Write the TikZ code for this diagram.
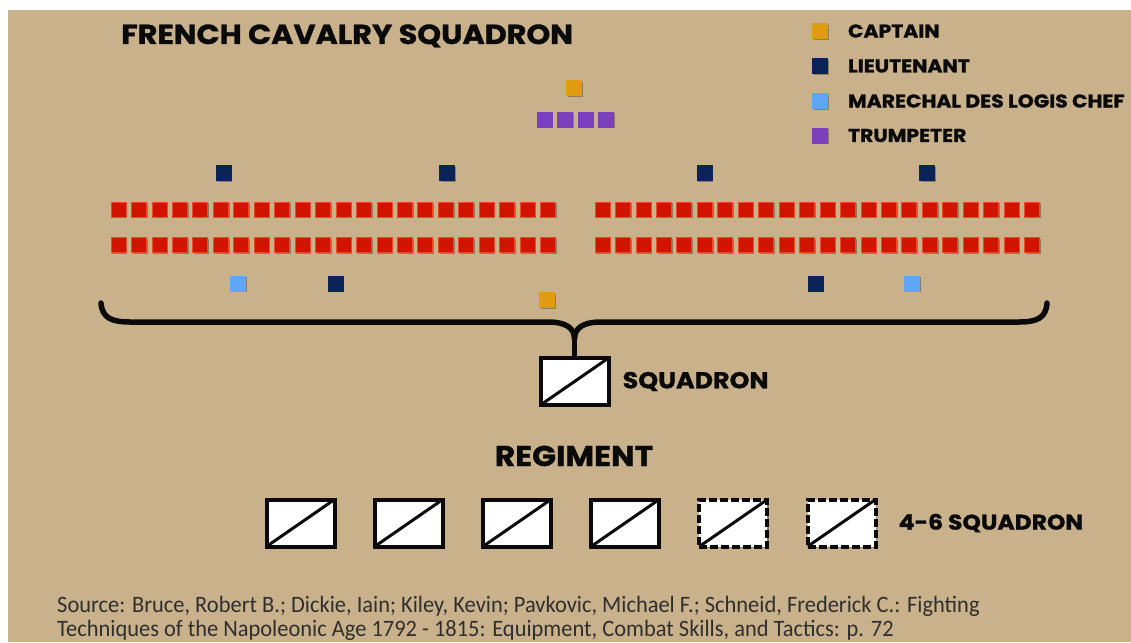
\documentclass[tikz,border=0pt]{standalone}
\usepackage{fontspec}
\newfontfamily\hvy{Poppins}[BoldFeatures={FakeBold=1.2,FakeStretch=1.1}]
\newfontfamily\srcfont{Carlito}[FakeStretch=0.955]
\usetikzlibrary{positioning,shadows}
\definecolor{paper}{HTML}{C9B28B}
\definecolor{trpc}{HTML}{D01400}
\definecolor{trpedge}{HTML}{EE4A24}
\definecolor{captc}{HTML}{E09B10}
\definecolor{ltc}{HTML}{0B2357}
\definecolor{mdlc}{HTML}{5EA7F8}
\definecolor{tptc}{HTML}{7A40BE}
\definecolor{ink}{HTML}{0A0A0A}
\tikzset{
  man/.style={rectangle,minimum size=15pt,inner sep=0pt,line width=0.7pt,
    drop shadow={shadow xshift=1.3pt,shadow yshift=-1.3pt,opacity=0.3,fill=black}},
  trp/.style={man,fill=trpc,draw=trpedge},
  capt/.style={man,fill=captc,draw=captc},
  lt/.style={man,fill=ltc,draw=ltc},
  mdl/.style={man,fill=mdlc,draw=mdlc},
  tpt/.style={man,fill=tptc,draw=tptc},
  unit/.style={rectangle,draw=ink,fill=white,line width=4pt,minimum width=68pt,minimum height=47pt,inner sep=0pt,
    drop shadow={shadow xshift=1.5pt,shadow yshift=-1.5pt,opacity=0.3,fill=black},
    path picture={\draw[ink,solid,line width=3pt] (path picture bounding box.south west) -- (path picture bounding box.north east);}},
  unitx/.style={unit,dash pattern=on 8pt off 3pt},
  brc/.style={draw=ink,line width=5.5pt,line cap=round},
  ttl/.style={font=\hvy\bfseries\fontsize{27.5}{30}\selectfont,text=ink,inner sep=0pt},
  hd/.style={font=\hvy\bfseries\fontsize{23}{28}\selectfont,text=ink,inner sep=0pt},
  key/.style={font=\hvy\bfseries\fontsize{18.5}{22}\selectfont,text=ink,inner sep=0pt},
  src/.style={font=\srcfont\fontsize{23.5}{24}\selectfont,text=ink!85,align=left,inner sep=0pt},
}
\begin{document}
\begin{tikzpicture}[x=1pt,y=-1pt]
\useasboundingbox (0,0) rectangle (1131,642);
\fill[white] (0,0) rectangle (1131,642);
\fill[paper] (8,10) rectangle (1131,642);
\node[ttl,anchor=base west] (title) at (121,44) {FRENCH CAVALRY SQUADRON};
% legend
\node[capt] (kcap) at (820,31) {};
\node[key,right=20pt of kcap] {CAPTAIN};
\node[lt] (klt) at (820,66) {};
\node[key,right=20pt of klt] {LIEUTENANT};
\node[mdl] (kmdl) at (820,101) {};
\node[key,right=20pt of kmdl] {MARECHAL DES LOGIS CHEF};
\node[tpt] (ktpt) at (820,135.5) {};
\node[key,right=20pt of ktpt] {TRUMPETER};
% squadron staff
\node[capt] (cap1) at (574,88) {};
\foreach \i in {0,...,3}
  \node[tpt] (tp\i) at (544.5+20.5*\i,119.5) {};
% two companies, two ranks
\foreach \i in {0,...,21} {
  \node[trp] (la\i) at (118.5+20.45*\i,209.5) {};
  \node[trp] (lb\i) at (118.5+20.45*\i,245) {};
  \node[trp] (ra\i) at (602.5+20.45*\i,209.5) {};
  \node[trp] (rb\i) at (602.5+20.45*\i,245) {};
}
\node[lt] (lt1) at (223.5,173) {};
\node[lt] (lt2) at (447,173) {};
\node[lt] (lt3) at (704.5,173) {};
\node[lt] (lt4) at (927,173) {};
\node[mdl] (md1) at (238,283.5) {};
\node[lt] (lt5) at (335.5,283.5) {};
\node[lt] (lt6) at (815.5,283.5) {};
\node[mdl] (md2) at (912,283.5) {};
\node[capt] (cap2) at (547,300) {};
% brace
\node[unit] (sqd) at (574.5,381.5) {};
\node[hd,right=12pt of sqd] (sqlab) {SQUADRON};
\coordinate (tip) at (574.5,339);
\draw[brc] (101,303) .. controls (102,318) and (112,322) .. (130,322) -- (548,322) .. controls (566,322) and (574.5,328) .. (tip);
\draw[brc] (1047,303) .. controls (1046,318) and (1037,322) .. (1019,322) -- (601,322) .. controls (583,322) and (574.5,328) .. (tip);
\draw[brc,line cap=butt] (tip) -- (sqd.north);
% regiment
\node[ttl,font=\hvy\bfseries\fontsize{28.5}{30}\selectfont,anchor=base] (reg) at (574,466) {REGIMENT};
\node[unit] (u1) at (300.5,523) {};
\node[unit] (u2) at (408.7,523) {};
\node[unit] (u3) at (516.9,523) {};
\node[unit] (u4) at (625.1,523) {};
\node[unitx] (u5) at (733.3,523) {};
\node[unitx] (u6) at (841.5,523) {};
\node[key,font=\hvy\bfseries\fontsize{21.3}{24}\selectfont,right=21pt of u6] (cnt) {4-6 SQUADRON};
% source
\node[src,anchor=north west] (srcnote) at (57,596) {Source: Bruce, Robert B.; Dickie, Iain; Kiley, Kevin; Pavkovic, Michael F.; Schneid, Frederick C.: Fighting\\Techniques of the Napoleonic Age 1792 - 1815: Equipment, Combat Skills, and Tactics: p. 72};
\end{tikzpicture}
\end{document}
